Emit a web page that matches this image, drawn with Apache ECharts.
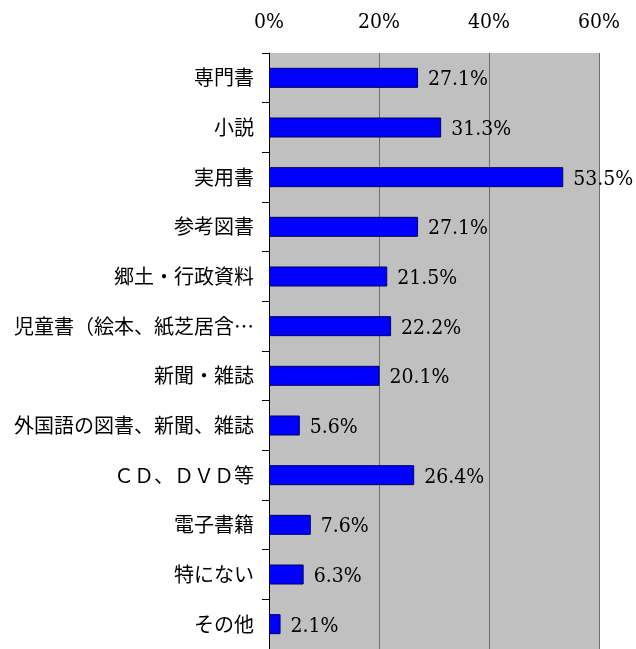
<!DOCTYPE html>
<html>
<head>
<meta charset="utf-8">
<script src="https://cdn.jsdelivr.net/npm/echarts@6/dist/echarts.min.js"></script>
<style>
  html, body { margin: 0; padding: 0; background: #fff; }
  #chart { width: 636px; height: 649px; }
</style>
</head>
<body>
<div id="chart"></div>
<script>
const categories = ['専門書', '小説', '実用書', '参考図書', '郷土・行政資料', '児童書（絵本、紙芝居含…', '新聞・雑誌', '外国語の図書、新聞、雑誌', 'ＣＤ、ＤＶＤ等', '電子書籍', '特にない', 'その他']
const values = [27.1, 31.3, 53.5, 27.1, 21.5, 22.2, 20.1, 5.6, 26.4, 7.6, 6.3, 2.1]
const xTicks = [0, 20, 40, 60]

const numFont = '"DejaVu Serif Condensed", "Liberation Serif", serif'

const chart = echarts.init(document.getElementById('chart'))
chart.setOption({
  animation: false,
  backgroundColor: '#fff',
  grid: {
    left: 269,
    right: 37,
    top: 53,
    height: 601,
    show: true,
    backgroundColor: '#c0c0c0',
    borderWidth: 0
  },
  xAxis: {
    type: 'value',
    position: 'top',
    min: xTicks[0],
    max: xTicks[xTicks.length - 1],
    interval: 20,
    axisLine: { show: false },
    axisTick: { show: false },
    axisLabel: {
      formatter: '{value}%',
      color: '#000',
      fontFamily: numFont,
      fontSize: 21,
      margin: 20
    },
    splitLine: { show: true, lineStyle: { color: '#6e6e6e', width: 1 } }
  },
  yAxis: {
    type: 'category',
    inverse: true,
    data: categories,
    axisLine: { show: true, lineStyle: { color: '#000', width: 1 } },
    axisTick: { show: true, length: 7, lineStyle: { color: '#000' } },
    axisLabel: {
      color: '#000',
      fontFamily: 'Noto Sans CJK JP',
      fontSize: 20,
      margin: 15
    }
  },
  series: [{
    type: 'bar',
    data: values,
    barWidth: 20,
    itemStyle: { color: '#0000ff', borderColor: '#000060', borderWidth: 1 },
    label: {
      show: true,
      position: 'right',
      distance: 10,
      offset: [0, 2],
      formatter: '{c}%',
      color: '#000',
      fontFamily: numFont,
      fontSize: 21
    }
  }]
})
</script>
</body>
</html>
